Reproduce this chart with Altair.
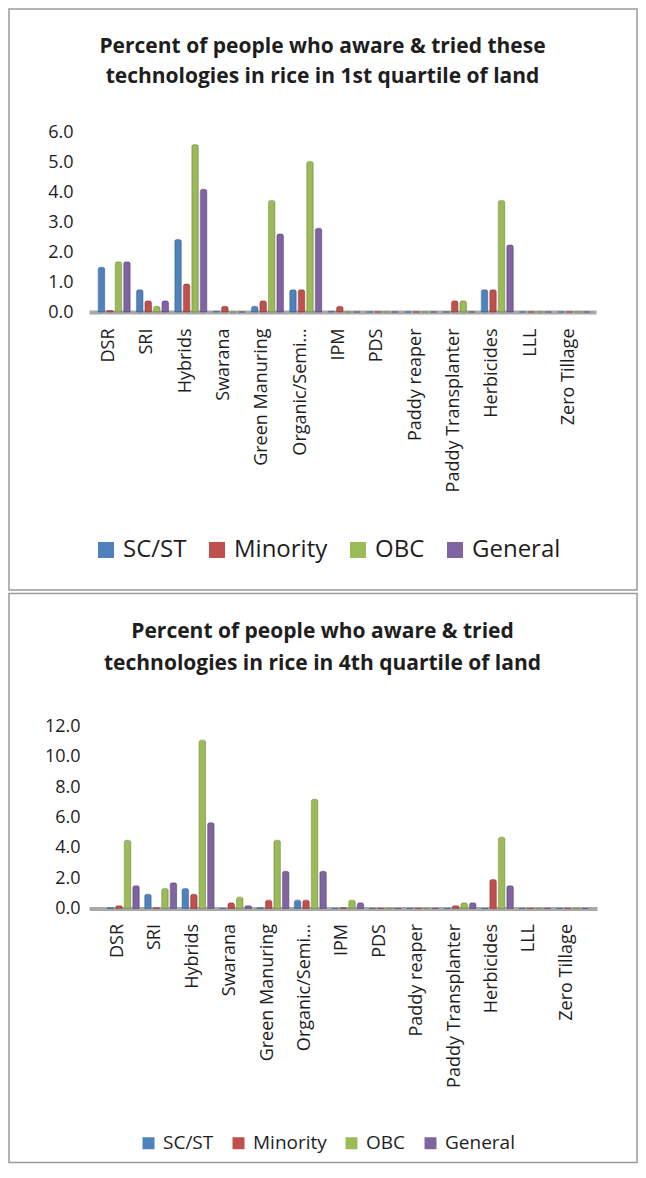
import altair as alt
import pandas as pd

categories = ["DSR", "SRI", "Hybrids", "Swarana", "Green Manuring", "Organic/Semi…",
              "IPM", "PDS", "Paddy reaper", "Paddy Transplanter", "Herbicides", "LLL", "Zero Tillage"]
groups = ["SC/ST", "Minority", "OBC", "General"]
colors = ["#4F81BD", "#C0504D", "#9BBB59", "#8064A2"]
strokes = ["#3A6496", "#943C3A", "#779143", "#5F4A7A"]

title1 = ["Percent of people who aware & tried these",
          "technologies in rice in 1st quartile of land"]
title2 = ["Percent of people who aware & tried",
          "technologies in rice in 4th quartile of land"]

# 1st quartile of land
q1_scst     = [1.49, 0.74, 2.42, 0.02, 0.19, 0.74, 0.02, 0, 0, 0, 0.74, 0, 0]
q1_minority = [0.05, 0.37, 0.93, 0.19, 0.37, 0.74, 0.19, 0, 0, 0.37, 0.74, 0, 0]
q1_obc      = [1.67, 0.19, 5.58, 0, 3.72, 5.02, 0, 0, 0, 0.37, 3.72, 0, 0]
q1_general  = [1.67, 0.37, 4.09, 0, 2.60, 2.79, 0, 0, 0, 0, 2.23, 0, 0]

# 4th quartile of land
q4_scst     = [0.05, 0.94, 1.32, 0, 0.05, 0.55, 0, 0, 0, 0, 0, 0, 0]
q4_minority = [0.18, 0.05, 0.94, 0.37, 0.55, 0.55, 0.05, 0, 0, 0.18, 1.91, 0, 0]
q4_obc      = [4.50, 1.32, 11.1, 0.75, 4.50, 7.20, 0.55, 0, 0, 0.37, 4.70, 0, 0]
q4_general  = [1.50, 1.69, 5.66, 0.18, 2.45, 2.45, 0.37, 0, 0, 0.37, 1.50, 0, 0]

yticks1 = [0, 1, 2, 3, 4, 5, 6]
yticks2 = [0, 2, 4, 6, 8, 10, 12]

FONT = "Open Sans"
TXT = "#1e1e1e"


def make_df(series):
    rows = []
    for g, vals in zip(groups, series):
        for c, v in zip(categories, vals):
            rows.append({"tech": c, "group": g, "value": v})
    return pd.DataFrame(rows)


def panel(df, title_lines, yticks, width, height, p):
    one = pd.DataFrame({"k": [0]})
    bars = alt.Chart(df).mark_bar(
        strokeWidth=0.6, cornerRadiusTopLeft=2, cornerRadiusTopRight=2
    ).encode(
        x=alt.X("tech:N", sort=categories, title=None,
                scale=alt.Scale(paddingInner=p["pi"], paddingOuter=p["po"], align=p["align"]),
                axis=alt.Axis(labelAngle=270, labelFont=FONT, labelFontSize=18, labelColor=TXT,
                              labelPadding=p["xlp"], labelOffset=-5, ticks=False, tickSize=0,
                              domainColor="#A8A8A8", domainWidth=4, labelLimit=300)),
        xOffset=alt.XOffset("group:N", sort=groups,
                            scale=alt.Scale(paddingInner=0.24, paddingOuter=0)),
        y=alt.Y("value:Q", title=None,
                scale=alt.Scale(domain=[yticks[0], yticks[-1]], nice=False),
                axis=alt.Axis(values=yticks, format=".1f", grid=False, domain=False, ticks=False,
                              tickSize=0, labelFont=FONT, labelFontSize=18, labelColor=TXT,
                              labelPadding=p["ylp"])),
        color=alt.Color("group:N", sort=groups,
                        scale=alt.Scale(domain=groups, range=colors),
                        legend=alt.Legend(title=None, orient="none", direction="horizontal",
                                          legendX=p["lx"], legendY=p["ly"],
                                          symbolType="square", symbolSize=p["ss"],
                                          symbolStrokeWidth=0, labelFont=FONT,
                                          labelFontSize=p["lfs"], labelColor=TXT,
                                          labelOffset=p["lo"], columnPadding=p["cp"],
                                          padding=0)),
        stroke=alt.Stroke("group:N", sort=groups,
                          scale=alt.Scale(domain=groups, range=strokes), legend=None),
    )
    border = alt.Chart(one).mark_rect(filled=False, stroke="#9A9A9A", strokeWidth=1.5).encode(
        x=alt.value(p["bx"][0]), x2=alt.value(p["bx"][1]),
        y=alt.value(p["by"][0]), y2=alt.value(p["by"][1]),
    )
    title = alt.Chart(one).mark_text(
        text=title_lines, font=FONT, fontWeight="bold", fontSize=21, color=TXT,
        lineHeight=p["tlh"], align="center", baseline="middle"
    ).encode(x=alt.value(p["tx"]), y=alt.value(p["ty"]))
    return alt.layer(border, bars, title).properties(width=width, height=height)


p1 = dict(pi=0.165, po=0.2, align=0.6, xlp=16, ylp=16, lx=5, ly=406, ss=256, lfs=24,
          lo=5, cp=18, bx=(-80, 548), by=(-123, 458), tx=233.5, ty=-85, tlh=30)
p2 = dict(pi=0.16, po=0.37, align=0.66, xlp=15, ylp=9, lx=50, ly=407, ss=144, lfs=19,
          lo=5, cp=15, bx=(-80, 548), by=(-133, 436), tx=233.5, ty=-95, tlh=32)

c1 = panel(make_df([q1_scst, q1_minority, q1_obc, q1_general]), title1, yticks1, 507, 180, p1)
c2 = panel(make_df([q4_scst, q4_minority, q4_obc, q4_general]), title2, yticks2, 508, 182, p2)

chart = alt.vconcat(c1, c2, spacing=1.5).resolve_scale(
    color="independent", stroke="independent", x="independent", y="independent"
).properties(
    padding=0,
    background="white",
).configure_view(strokeWidth=0)

chart.save("out.html", embed_options={"renderer": "svg", "actions": False})
